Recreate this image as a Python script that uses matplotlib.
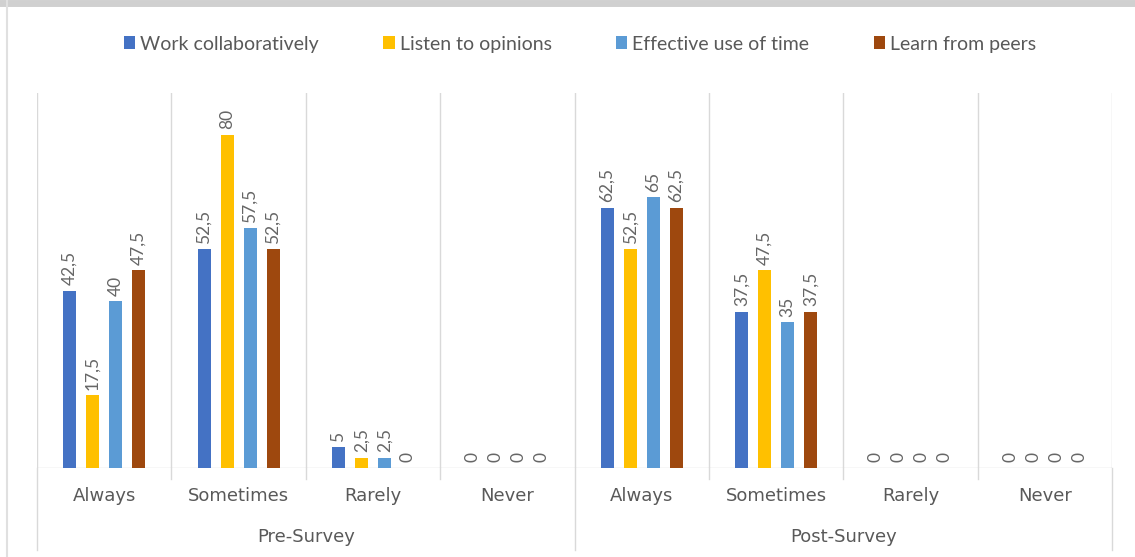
import matplotlib.pyplot as plt
from matplotlib.lines import Line2D
import matplotlib.transforms as mtransforms
import numpy as np

plt.rcParams['font.family'] = ['Lato', 'DejaVu Sans']

categories = ['Always', 'Sometimes', 'Rarely', 'Never']
groups = ['Pre-Survey', 'Post-Survey']
series = ['Work collaboratively', 'Listen to opinions', 'Effective use of time', 'Learn from peers']
work_collab = [42.5, 52.5, 5, 0, 62.5, 37.5, 0, 0]
listen_ops = [17.5, 80, 2.5, 0, 52.5, 47.5, 0, 0]
effective_time = [40, 57.5, 2.5, 0, 65, 35, 0, 0]
learn_peers = [47.5, 52.5, 0, 0, 62.5, 37.5, 0, 0]
colors = ['#4472C4', '#FFC000', '#5B9BD5', '#9E480E']

W, H = 1135, 557
fig = plt.figure(figsize=(W / 100, H / 100), dpi=100)
ax = fig.add_axes([37 / W, (H - 468) / H, (1112 - 37) / W, (468 - 93) / H])

txt = '#595959'
grid = '#d9d9d9'
x = np.arange(len(categories) * len(groups))
offsets = [-0.257, -0.0856, 0.0856, 0.257]
width = 0.097

for vals, name, col, off in zip([work_collab, listen_ops, effective_time, learn_peers],
                                series, colors, offsets):
    bars = ax.bar(x + off, vals, width, color=col, label=name, zorder=3)
    for b, v in zip(bars, vals):
        ax.annotate(f'{v:g}'.replace('.', ','), (b.get_x() + b.get_width() / 2, b.get_height()),
                    xytext=(0, 4), textcoords='offset points', rotation=90,
                    ha='center', va='bottom', color='#666666', fontsize=12.5)

ax.set_xlim(-0.5, 7.5)
ax.set_ylim(0, 90)
for s in ax.spines.values():
    s.set_visible(False)
ax.set_yticks([])
ax.set_xticks(x)
ax.set_xticklabels(categories * 2, color=txt, fontsize=13, family='DejaVu Sans')
ax.tick_params(axis='x', length=0, pad=14)

# separators
trans = mtransforms.blended_transform_factory(ax.transData, ax.transAxes)
for b in np.arange(-0.5, 8, 1):
    ax.plot([b, b], [0, 1], color=grid, lw=1, transform=trans, zorder=1)
    low = -0.219 if b in (-0.5, 3.5, 7.5) else -0.03
    ax.plot([b, b], [0, low], color=grid, lw=1, transform=trans, clip_on=False)
ax.axhline(0, color=grid, lw=1, zorder=2)

for i, g in enumerate(groups):
    ax.text(1.5 + 4 * i, -0.185, g, transform=trans, ha='center', va='center',
            color=txt, fontsize=13, family='DejaVu Sans')

# chart frame
fig.add_artist(Line2D([0, 1], [1 - 3 / H, 1 - 3 / H], color='#d0d0d0', lw=5))
fig.add_artist(Line2D([7 / W, 7 / W], [0, 1], color='#e0e0e0', lw=1.5))

fig.legend(loc='center', bbox_to_anchor=(0.511, 1 - 44 / H), ncol=4, frameon=False,
           handlelength=0.6, handleheight=0.6, handletextpad=0.25, columnspacing=3.3,
           fontsize=14, labelcolor=txt)

fig.savefig('out.png', dpi=100)
